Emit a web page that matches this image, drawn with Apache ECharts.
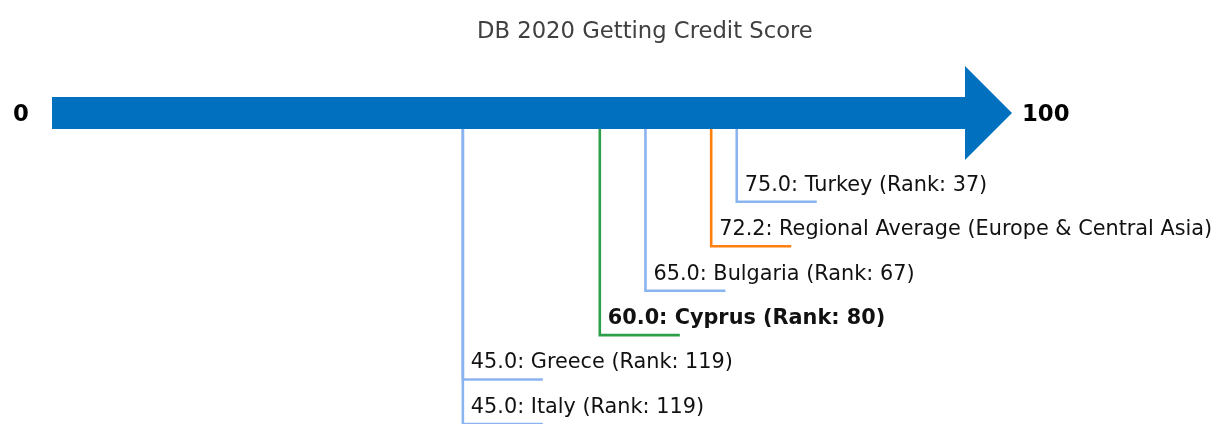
<!DOCTYPE html>
<html lang="en">
<head>
    <meta charset="UTF-8">
    <title>DB 2020 Getting Credit Score</title>
    <style>
        html, body {
            margin: 0;
            height: 100%;
            background: #fff;
        }
        #main {
            width: 1220px;
            height: 424px;
        }
    </style>
</head>
<body>
<script src="https://cdn.jsdelivr.net/npm/echarts@6/dist/echarts.min.js"></script>
<div id="main"></div>
<script>
    // values, ordered from top label to bottom label
    var economies = ['Turkey', 'Regional Average (Europe & Central Asia)', 'Bulgaria', 'Cyprus', 'Greece', 'Italy'];
    var scores = [75.0, 72.2, 65.0, 60.0, 45.0, 45.0];
    var ranks = [37, null, 67, 80, 119, 119];
    var roles = ['peer', 'region', 'peer', 'focus', 'peer', 'peer'];
    var endTicks = [0, 100];

    var FONT = 'DejaVu Sans';
    var roleColor = {peer: '#8ab4f0', region: '#ff7f0e', focus: '#2ca048'};

    function labelText(i) {
        var s = scores[i].toFixed(1) + ': ' + economies[i];
        if (ranks[i] != null) s += ' (Rank: ' + ranks[i] + ')';
        return s;
    }

    var chart = echarts.init(document.getElementById('main'));

    // level 0 is the arrow, labels stack down from level 2
    var leaderData = scores.map(function (v, i) {
        return [v, i + 2, i];
    });

    var option = {
        animation: false,
        title: {
            text: 'DB 2020 Getting Credit Score',
            left: 472,
            top: 16,
            textStyle: {
                fontFamily: FONT,
                fontSize: 22.7,
                fontWeight: 'normal',
                color: '#404040'
            }
        },
        grid: {
            left: 52,
            width: 913,
            top: 0,
            height: 424,
            outerBoundsMode: 'none'
        },
        xAxis: {
            type: 'value',
            min: 0,
            max: 100,
            show: false
        },
        yAxis: {
            type: 'value',
            min: -2.542,
            max: 7.0,
            inverse: true,
            show: false
        },
        series: [
            {
                // the big score arrow
                type: 'custom',
                data: [[0, 0]],
                renderItem: function (params, api) {
                    var p0 = api.coord([endTicks[0], 0]);
                    var p1 = api.coord([endTicks[1], 0]);
                    var color = '#0070bf';
                    return {
                        type: 'group',
                        children: [
                            {
                                type: 'rect',
                                shape: {x: p0[0], y: p0[1] - 16, width: p1[0] - p0[0], height: 32},
                                style: {fill: color}
                            },
                            {
                                type: 'polygon',
                                shape: {points: [[p1[0], p1[1] - 47], [p1[0] + 47, p1[1]], [p1[0], p1[1] + 47]]},
                                style: {fill: color}
                            }
                        ]
                    };
                }
            },
            {
                // 0 and 100 at the ends of the arrow
                type: 'custom',
                data: endTicks.map(function (t) { return [t, 0]; }),
                renderItem: function (params, api) {
                    var v = api.value(0);
                    var p = api.coord([v, 0]);
                    var isStart = v === endTicks[0];
                    return {
                        type: 'text',
                        x: isStart ? p[0] - 31 : p[0] + 57,
                        y: p[1] + 2,
                        style: {
                            text: String(v),
                            fontFamily: FONT,
                            fontSize: 22.8,
                            fontWeight: 'bold',
                            fill: '#000',
                            align: isStart ? 'center' : 'left',
                            verticalAlign: 'middle'
                        }
                    };
                }
            },
            {
                // leader lines with labels
                type: 'custom',
                data: leaderData,
                renderItem: function (params, api) {
                    var v = api.value(0);
                    var lvl = api.value(1);
                    var i = api.value(2);
                    var p = api.coord([v, lvl]);
                    var top = api.coord([v, 0])[1] + 16;
                    var color = roleColor[roles[i]];
                    return {
                        type: 'group',
                        children: [
                            {
                                type: 'polyline',
                                shape: {points: [[p[0], top], [p[0], p[1]], [p[0] + 80, p[1]]]},
                                style: {stroke: color, lineWidth: 2.6, fill: null, lineJoin: 'miter'}
                            },
                            {
                                type: 'text',
                                x: p[0] + 8,
                                y: p[1] - 16.5,
                                style: {
                                    text: labelText(i),
                                    fontFamily: FONT,
                                    fontSize: 20.8,
                                    fontWeight: roles[i] === 'focus' ? 'bold' : 'normal',
                                    fill: '#111',
                                    align: 'left',
                                    verticalAlign: 'middle'
                                }
                            }
                        ]
                    };
                }
            }
        ]
    };

    chart.setOption(option);
</script>
</body>
</html>
